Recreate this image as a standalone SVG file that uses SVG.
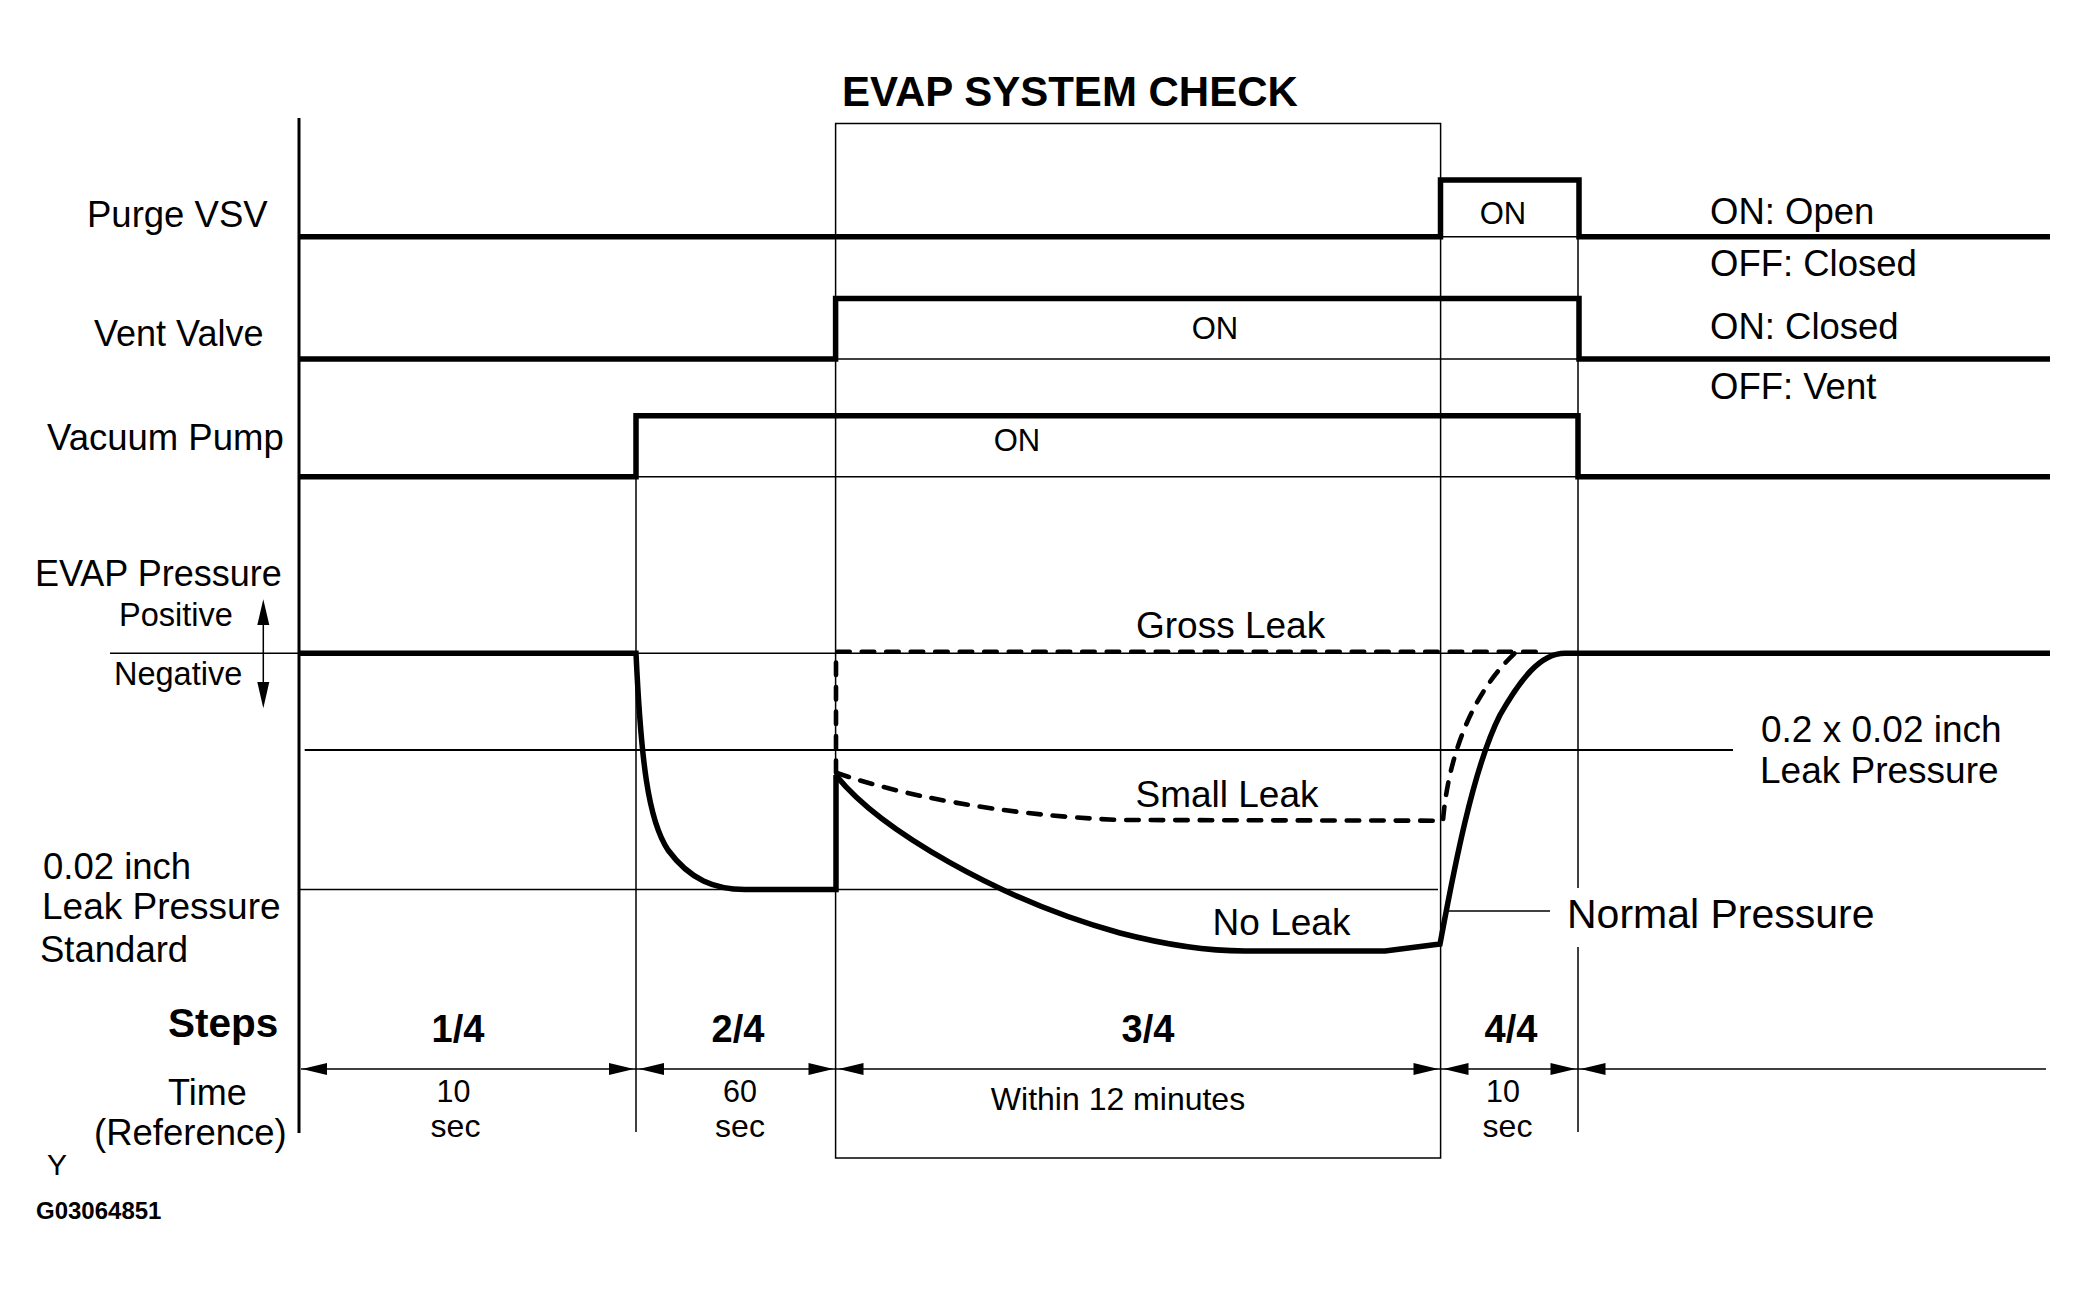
<svg xmlns="http://www.w3.org/2000/svg" width="2087" height="1295" viewBox="0 0 2087 1295">
<defs>
<style>
text{font-family:"Liberation Sans",Arial,sans-serif;fill:#000}
.b{font-weight:bold}
.m{text-anchor:middle}
.thin{fill:none;stroke:#000;stroke-width:1.5}
.med{fill:none;stroke:#000;stroke-width:2.2}
.thick{fill:none;stroke:#000;stroke-width:5.5;stroke-linejoin:miter}
.dash{fill:none;stroke:#000;stroke-width:4.6;stroke-dasharray:12.5 12;stroke-linecap:round}
.ah{fill:#000}
</style>
</defs>
<rect width="2087" height="1295" fill="#fff"/>

<g id="frame">
<line x1="299" y1="118" x2="299" y2="1133" stroke="#000" stroke-width="3"/>
<rect x="835.6" y="123.5" width="605" height="1034.5" class="thin"/>
<line class="thin" x1="636" y1="415.7" x2="636" y2="1132"/>
<line class="thin" x1="1578" y1="236.7" x2="1578" y2="888"/>
<line class="thin" x1="1578" y1="947" x2="1578" y2="1132"/>
<line class="thin" x1="1440.5" y1="236.7" x2="1578" y2="236.7"/>
<line class="thin" x1="835.6" y1="359" x2="1578" y2="359"/>
<line class="thin" x1="636" y1="476.7" x2="1578" y2="476.7"/>
<line class="thin" x1="110" y1="653.3" x2="1578" y2="653.3"/>
<line class="med" x1="304.7" y1="750" x2="1733" y2="750"/>
<line class="thin" x1="299" y1="889.5" x2="1438" y2="889.5"/>
</g>

<g id="title"><text class="b" x="842" y="106" font-size="42">EVAP SYSTEM CHECK</text></g>

<g id="purge-vsv">
<text x="87" y="227" font-size="36.5">Purge VSV</text>
<path class="thick" d="M299,236.7 H1440.5 V180 H1579 V236.7 H2050"/>
<text class="m" x="1503" y="224" font-size="31">ON</text>
<text x="1710" y="224" font-size="36.5">ON: Open</text>
<text x="1710" y="276" font-size="36.5">OFF: Closed</text>
</g>

<g id="vent-valve">
<text x="94" y="346" font-size="36">Vent Valve</text>
<path class="thick" d="M299,359 H835.6 V298.5 H1579 V359 H2050"/>
<text class="m" x="1215" y="339" font-size="31">ON</text>
<text x="1710" y="339" font-size="36.5">ON: Closed</text>
<text x="1710" y="399" font-size="36.5">OFF: Vent</text>
</g>

<g id="vacuum-pump">
<text x="47" y="450" font-size="36.5">Vacuum Pump</text>
<path class="thick" d="M299,476.7 H636 V415.7 H1578 V476.7 H2050"/>
<text class="m" x="1017" y="451" font-size="31">ON</text>
</g>

<g id="evap-pressure">
<text x="35" y="586" font-size="36">EVAP Pressure</text>
<text x="119" y="626" font-size="32.5">Positive</text>
<text x="114" y="685" font-size="32.5">Negative</text>
<line class="thin" x1="263.3" y1="620" x2="263.3" y2="688"/>
<polygon class="ah" points="263.3,599.3 257.3,625 269.3,625"/>
<polygon class="ah" points="263.3,708.3 257.3,682 269.3,682"/>
<text x="43" y="879" font-size="36.5">0.02 inch</text>
<text x="42" y="919" font-size="37">Leak Pressure</text>
<text x="40" y="962" font-size="36.5">Standard</text>
<text x="1761" y="741.5" font-size="37">0.2 x 0.02 inch</text>
<text x="1760" y="783" font-size="37">Leak Pressure</text>
</g>

<g id="pressure-curves">
<path class="thick" d="M299,653.3 H636 C641,760 648,820 668,850 C690,880 715,889.5 745,889.5 H836 V775"/>
<path class="thick" d="M836.5,776 C880,830 1000,900 1120,933 C1170,946 1210,951 1245,951 H1385 L1440,944 C1452,880 1472,770 1500,715 C1520,680 1540,653.3 1565,653.3 H2050"/>
<path class="dash" d="M836,773 V651.7 H1547"/>
<path class="dash" d="M837,773 C900,795 1000,815 1120,820 L1443,820.7 C1447,770 1465,700 1515,653"/>
<text class="m" x="1230.6" y="638" font-size="37">Gross Leak</text>
<text class="m" x="1227" y="807" font-size="37">Small Leak</text>
<text class="m" x="1281.5" y="935" font-size="37">No Leak</text>
<line class="thin" x1="1448" y1="911" x2="1550" y2="911"/>
<text x="1567" y="928" font-size="41">Normal Pressure</text>
</g>

<g id="steps">
<text class="b" x="168" y="1037" font-size="40.5">Steps</text>
<text class="b m" x="458" y="1042" font-size="38">1/4</text>
<text class="b m" x="738" y="1042" font-size="38">2/4</text>
<text class="b m" x="1148" y="1042" font-size="38">3/4</text>
<text class="b m" x="1511" y="1042" font-size="38">4/4</text>
</g>

<g id="time">
<text x="168" y="1105" font-size="36">Time</text>
<text x="94" y="1145" font-size="36.5">(Reference)</text>
<text class="m" x="453.5" y="1101.5" font-size="30.5">10</text>
<text class="m" x="455.5" y="1137" font-size="32">sec</text>
<text class="m" x="740" y="1101.5" font-size="30.5">60</text>
<text class="m" x="740" y="1137" font-size="32">sec</text>
<text class="m" x="1118" y="1110" font-size="32">Within 12 minutes</text>
<text class="m" x="1503" y="1101.5" font-size="30.5">10</text>
<text class="m" x="1507.5" y="1137" font-size="32">sec</text>
</g>

<g id="connectors">
<line class="thin" x1="301" y1="1069" x2="2046" y2="1069"/>
<polygon class="ah" points="302,1069 327,1063 327,1075"/>
<polygon class="ah" points="634,1069 609,1063 609,1075"/>
<polygon class="ah" points="639,1069 664,1063 664,1075"/>
<polygon class="ah" points="833.5,1069 808.5,1063 808.5,1075"/>
<polygon class="ah" points="838.5,1069 863.5,1063 863.5,1075"/>
<polygon class="ah" points="1438.5,1069 1413.5,1063 1413.5,1075"/>
<polygon class="ah" points="1443.5,1069 1468.5,1063 1468.5,1075"/>
<polygon class="ah" points="1575.5,1069 1550.5,1063 1550.5,1075"/>
<polygon class="ah" points="1580.5,1069 1605.5,1063 1605.5,1075"/>
</g>

<g id="footer">
<text x="47" y="1175" font-size="30">Y</text>
<text class="b" x="36" y="1219" font-size="24">G03064851</text>
</g>
</svg>
